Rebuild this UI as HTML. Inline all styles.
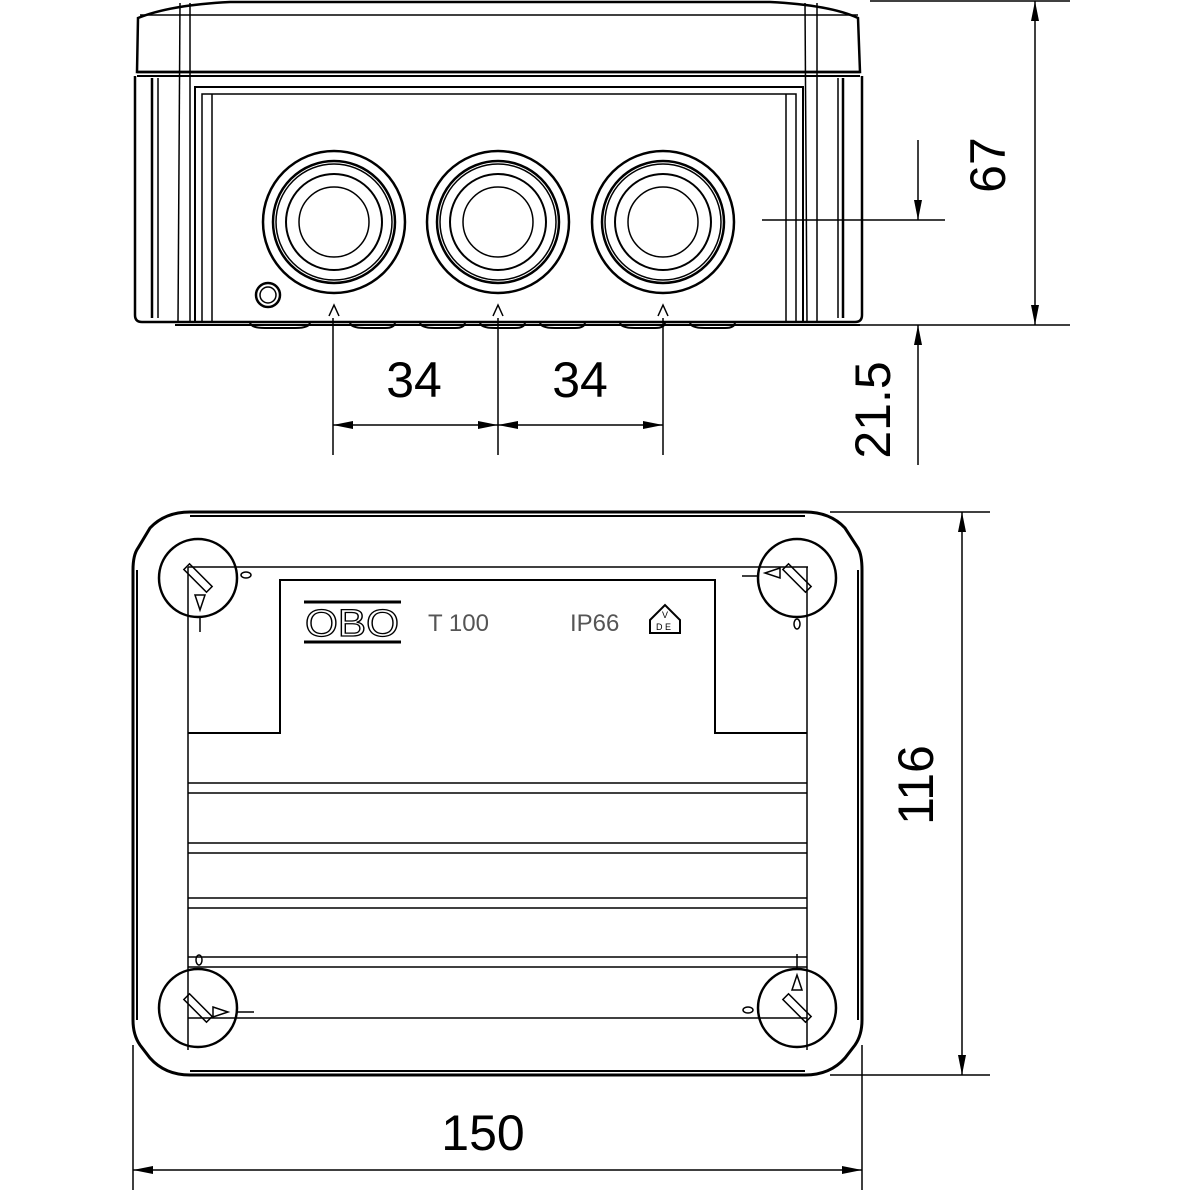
<!DOCTYPE html>
<html><head><meta charset="utf-8"><style>html,body{margin:0;padding:0;background:#fff}svg{display:block}</style></head>
<body>
<svg width="1200" height="1200" viewBox="0 0 1200 1200" xmlns="http://www.w3.org/2000/svg" fill="none" stroke="#000" stroke-width="1.5">
<defs>
<marker id="a" viewBox="0 0 20 8" refX="20" refY="4" markerWidth="20" markerHeight="8" orient="auto-start-reverse" markerUnits="userSpaceOnUse"><path d="M0,0 L20,4 L0,8 z" fill="#000" stroke="none"/></marker>
<g id="gland">
<circle r="71" stroke-width="2.5"/><circle r="61" stroke-width="2.5"/><circle r="58"/><circle r="48" stroke-width="2"/><circle r="35" stroke-width="1.5"/>
</g>
<g id="screw">
<circle r="39" stroke-width="2.5"/>
<rect x="-16" y="-4" width="32" height="8" transform="rotate(45)" stroke-width="1.5"/>
</g>
</defs>

<!-- TOP VIEW -->
<path d="M137,72 L138,18 Q170,5 230,2 L770,2 Q830,5 858,18 L860,72 Z" stroke-width="2.5"/>
<line x1="137" y1="72" x2="860" y2="72" stroke-width="2.5"/>
<line x1="137" y1="76" x2="860" y2="76" stroke-width="2"/>
<line x1="140" y1="15" x2="858" y2="15" stroke-width="1.5"/>
<line x1="180" y1="3" x2="178" y2="322"/><line x1="190" y1="3" x2="190" y2="322"/>
<line x1="805" y1="3" x2="807" y2="322"/><line x1="817" y1="3" x2="817" y2="322"/>
<path d="M135,76 L135,315 Q135,322 142,322 L855,322 Q862,322 862,315 L862,76" stroke-width="2.5"/>
<line x1="152" y1="78" x2="152" y2="318" stroke-width="2.5"/><line x1="158" y1="78" x2="158" y2="318"/>
<line x1="843" y1="78" x2="843" y2="318" stroke-width="2.5"/><line x1="838" y1="78" x2="838" y2="318"/>
<rect x="195" y="87" width="608" height="235" stroke-width="2"/>
<rect x="202" y="94" width="594" height="228"/>
<line x1="212" y1="94" x2="212" y2="322"/><line x1="786" y1="94" x2="786" y2="322"/>
<line x1="175" y1="325" x2="860" y2="325" stroke-width="2"/>
<g stroke-width="2">
<path d="M250,322 q0,6 15,6 h30 q15,0 15,-6"/><path d="M350,322 q0,6 15,6 h20 q10,0 10,-6"/>
<path d="M420,322 q0,6 15,6 h20 q10,0 10,-6"/><path d="M480,322 q0,6 15,6 h20 q10,0 10,-6"/>
<path d="M540,322 q0,6 15,6 h20 q10,0 10,-6"/><path d="M620,322 q0,6 15,6 h20 q10,0 10,-6"/>
<path d="M690,322 q0,6 15,6 h20 q10,0 10,-6"/>
</g>
<use href="#gland" x="334" y="222"/><use href="#gland" x="498" y="222"/><use href="#gland" x="663" y="222"/>
<circle cx="268" cy="295" r="12" stroke-width="2.5"/><circle cx="268" cy="295" r="8"/>
<path d="M329,316 L334,305 L339,316" /><path d="M493,316 L498,305 L503,316"/><path d="M658,316 L663,305 L668,316"/>
<!-- dims top -->
<line x1="333" y1="318" x2="333" y2="455"/><line x1="498" y1="318" x2="498" y2="455"/><line x1="663" y1="318" x2="663" y2="455"/>
<line x1="333" y1="425" x2="498" y2="425" marker-start="url(#a)" marker-end="url(#a)"/>
<line x1="498" y1="425" x2="663" y2="425" marker-start="url(#a)" marker-end="url(#a)"/>
<g font-family="Liberation Sans, DejaVu Sans, sans-serif" font-size="50" fill="#000" stroke="none" font-weight="300">
<text x="414" y="397" text-anchor="middle">34</text>
<text x="580" y="397" text-anchor="middle">34</text>
<text transform="translate(1005,165) rotate(-90)" text-anchor="middle">67</text>
<text transform="translate(890,410) rotate(-90)" text-anchor="middle">21.5</text>
<text transform="translate(933,785) rotate(-90)" text-anchor="middle">116</text>
<text x="483" y="1150" text-anchor="middle">150</text>
</g>
<line x1="870" y1="1" x2="1070" y2="1"/><line x1="860" y1="325" x2="1070" y2="325"/>
<line x1="1035" y1="1" x2="1035" y2="325" marker-start="url(#a)" marker-end="url(#a)"/>
<line x1="762" y1="220" x2="945" y2="220"/>
<line x1="918" y1="140" x2="918" y2="220" marker-end="url(#a)"/>
<line x1="918" y1="465" x2="918" y2="325" marker-end="url(#a)"/>

<!-- BOTTOM VIEW -->
<path d="M190,512 L805,512 Q830,512 845,528 L858,548 Q862,555 862,570 L862,1020 Q862,1035 855,1045 L845,1058 Q830,1075 805,1075 L190,1075 Q165,1075 150,1058 L140,1045 Q133,1035 133,1020 L133,570 Q133,555 138,548 L150,528 Q165,512 190,512 Z" stroke-width="3"/>
<line x1="190" y1="516" x2="805" y2="516" stroke-width="2"/>
<line x1="137" y1="570" x2="137" y2="1020" stroke-width="2"/>
<line x1="858" y1="570" x2="858" y2="1020" stroke-width="2"/>
<line x1="190" y1="1071" x2="805" y2="1071" stroke-width="2"/>
<line x1="188" y1="567" x2="808" y2="567"/>
<line x1="188" y1="567" x2="188" y2="1050"/><line x1="807" y1="567" x2="807" y2="1050"/>
<path d="M188,733 L280,733 L280,580 L715,580 L715,733 L807,733" stroke-width="2"/>
<line x1="188" y1="783" x2="807" y2="783"/><line x1="188" y1="793" x2="807" y2="793"/>
<line x1="188" y1="843" x2="807" y2="843"/><line x1="188" y1="853" x2="807" y2="853"/>
<line x1="188" y1="898" x2="807" y2="898"/><line x1="188" y1="908" x2="807" y2="908"/>
<line x1="188" y1="957" x2="807" y2="957"/><line x1="188" y1="967" x2="807" y2="967"/>
<line x1="188" y1="1018" x2="807" y2="1018"/>
<!-- logo -->
<line x1="304" y1="602" x2="401" y2="602" stroke-width="3"/><line x1="304" y1="642" x2="401" y2="642" stroke-width="3"/>
<text x="352" y="636" text-anchor="middle" font-family="Liberation Sans, sans-serif" font-size="38" textLength="94" lengthAdjust="spacingAndGlyphs" fill="#fff" stroke="#000" stroke-width="1.3">OBO</text>
<g font-family="Liberation Sans, sans-serif" font-size="24" fill="#555" stroke="none">
<text x="428" y="631">T 100</text><text x="570" y="631">IP66</text>
</g>
<path d="M650,620 L665,605 L680,620 L680,633 L650,633 Z" stroke-width="2"/>
<g font-family="Liberation Sans, sans-serif" font-size="9" fill="#000" stroke="none"><text x="662" y="618">V</text><text x="656" y="630">D E</text></g>
<!-- screws -->
<use href="#screw" x="198" y="578"/><use href="#screw" x="797" y="578"/>
<use href="#screw" x="198" y="1008"/><use href="#screw" x="797" y="1008"/>
<path d="M195,595 l5,15 l5,-15 z"/><line x1="200" y1="618" x2="200" y2="632"/>
<ellipse cx="246" cy="575" rx="5" ry="3"/>
<path d="M780,568 l-15,5 l15,5 z"/><line x1="742" y1="576" x2="758" y2="576"/>
<ellipse cx="797" cy="624" rx="3" ry="5"/>
<path d="M213,1007 l15,5 l-15,5 z"/><line x1="238" y1="1012" x2="254" y2="1012"/>
<ellipse cx="199" cy="960" rx="3" ry="5"/>
<path d="M792,990 l5,-15 l5,15 z"/><line x1="797" y1="954" x2="797" y2="968"/>
<ellipse cx="748" cy="1010" rx="5" ry="3"/>
<!-- bottom dims -->
<line x1="830" y1="512" x2="990" y2="512"/><line x1="830" y1="1075" x2="990" y2="1075"/>
<line x1="962" y1="512" x2="962" y2="1075" marker-start="url(#a)" marker-end="url(#a)"/>
<line x1="133" y1="1045" x2="133" y2="1190"/><line x1="862" y1="1045" x2="862" y2="1190"/>
<line x1="133" y1="1170" x2="862" y2="1170" marker-start="url(#a)" marker-end="url(#a)"/>
</svg>
</body></html>
